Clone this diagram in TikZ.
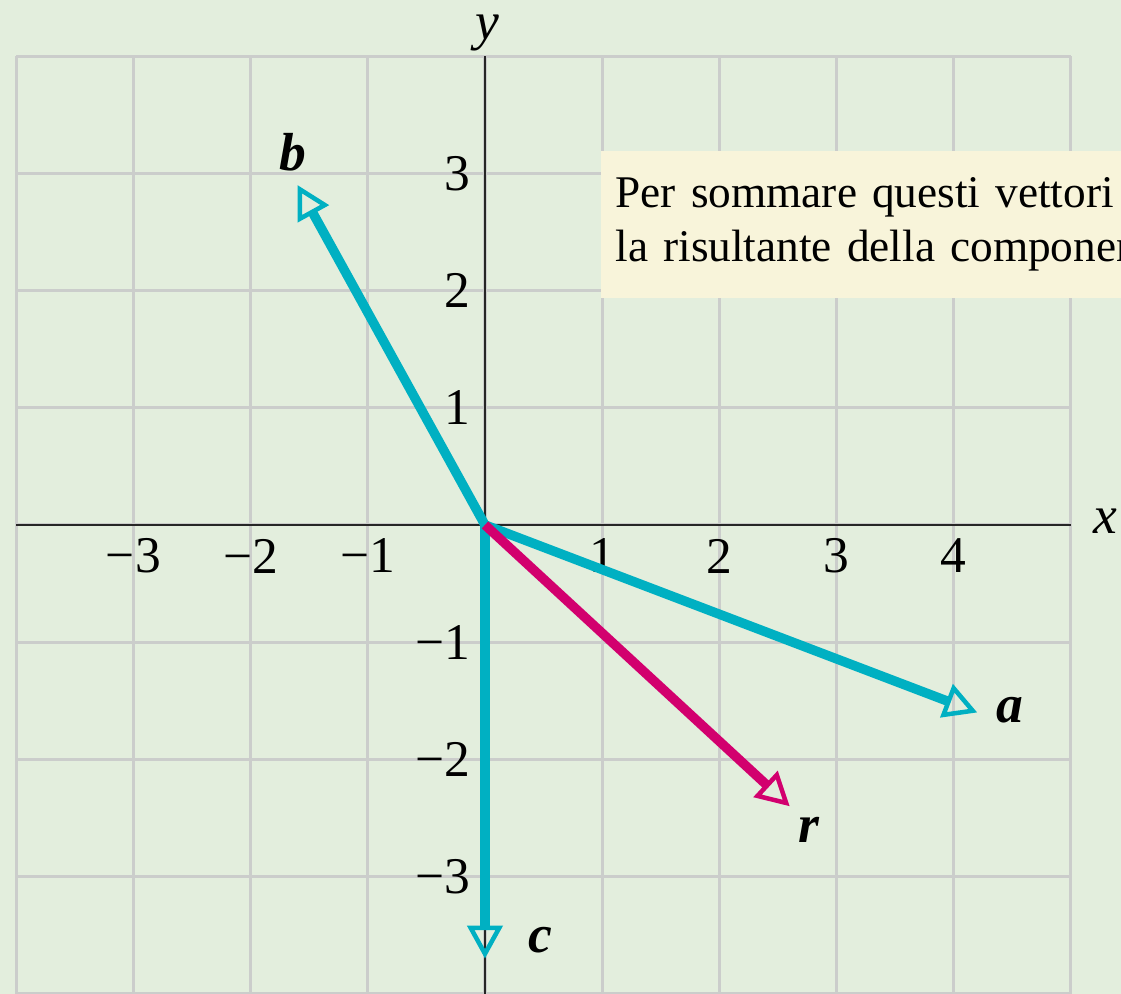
\documentclass[tikz,border=0pt]{standalone}
\usepackage{fontspec}
\setmainfont{Liberation Serif}
\usetikzlibrary{arrows.meta}
\definecolor{bgc}{HTML}{E3EEDD}
\definecolor{gridc}{HTML}{CBCDCB}
\definecolor{vecc}{HTML}{00B0C2}
\definecolor{resc}{HTML}{D2006E}
\definecolor{notec}{HTML}{F8F4DA}
\tikzset{
  gridline/.style={draw=gridc, line width=0.75pt},
  axisline/.style={draw=black!85, line width=0.5pt},
  vecline/.style={line width=2.3pt, -{Triangle[open, length=8pt, width=8.5pt, line width=1.1pt]}},
  ticklab/.style={font=\fontsize{12.5}{14}\selectfont, inner sep=0pt},
  veclab/.style={font=\fontsize{13}{15}\selectfont\bfseries\itshape, inner sep=0pt},
  axlab/.style={font=\fontsize{13}{15}\selectfont\itshape, inner sep=0pt},
  notebox/.style={fill=notec, anchor=north west, minimum height=1.255cm, text width=5.6cm,
    inner xsep=3.6pt, inner ysep=0pt, align=left, font=\fontsize{11}{13.3}\selectfont}
}
\begin{document}
\begin{tikzpicture}
\useasboundingbox (-4.138,-4.0) rectangle (5.427,4.479);
\clip (-4.138,-4.0) rectangle (5.427,4.479);
\fill[bgc] (-4.138,-4.0) rectangle (5.427,4.479);
% grid
\draw[gridline] (-4,-4) grid (5,4);
% note box
\node[notebox] (note) at (0.981,3.2) {Per sommare questi vettori si\\la risultante della componente};
% axes
\draw[axisline] (-4,0) -- (5,0);
\draw[axisline] (0,4) -- (0,-4);
\node[axlab] (xl) at (5.29,0.03) {x};
\node[axlab] (yl) at (0.017,4.2) {y};
% ticks
\foreach \v/\t in {-3/−3,-2/−2,-1/−1,1/1,2/2,3/3,4/4}
  \node[ticklab] (xt\v) at (\v,-0.265) {\t};
\foreach \v/\t in {3/3,2/2,1/1,-1/−1,-2/−2,-3/−3}
  \node[ticklab, anchor=east] (yt\v) at (-0.12,\v) {\t};
% vectors
\coordinate (O) at (0,0);
\coordinate (A) at (4.2,-1.6);
\coordinate (B) at (-1.6,2.9);
\coordinate (C) at (0,-3.7);
\coordinate (R) at (2.6,-2.4);
\draw[vecline, draw=vecc] (O) -- (A);
\draw[vecline, draw=vecc] (O) -- (B);
\draw[vecline, draw=vecc] (O) -- (C);
\draw[vecline, draw=resc] (O) -- (R);
\node[veclab] (la) at (4.48,-1.58) {a};
\node[veclab] (lb) at (-1.64,3.18) {b};
\node[veclab] (lc) at (0.47,-3.54) {c};
\node[veclab] (lr) at (2.76,-2.60) {r};
\end{tikzpicture}
\end{document}
